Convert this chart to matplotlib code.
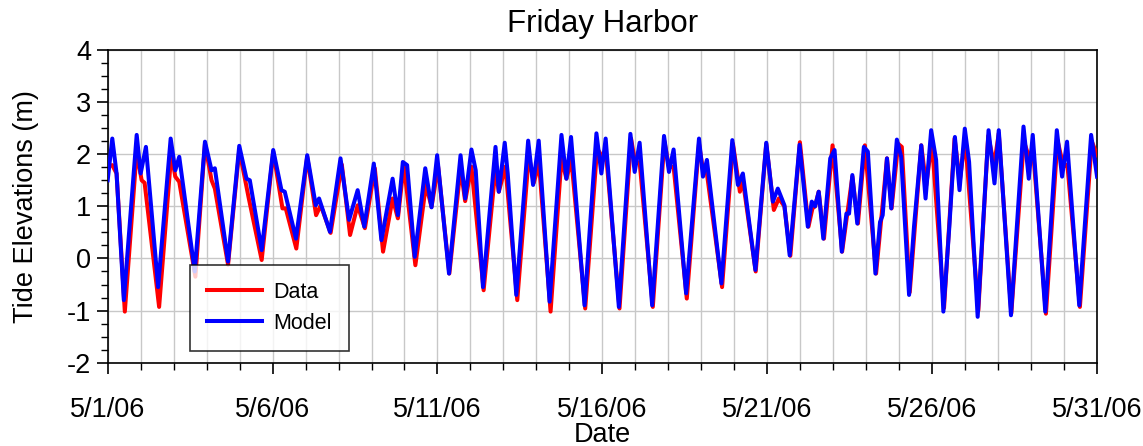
import datetime as dt
import matplotlib
matplotlib.use("Agg")
import matplotlib.pyplot as plt
import matplotlib.dates as mdates

plt.rcParams["font.family"] = ["Liberation Sans", "DejaVu Sans"]
plt.rcParams["axes.unicode_minus"] = False

# -----------------------------------------------------------------------
# Data: (days since 5/1/06, elevation in m)
# -----------------------------------------------------------------------
start_date = dt.datetime(2006, 5, 1)

model_days = [
    0.00, 0.14, 0.27, 0.49, 0.88, 1.00, 1.16, 1.53, 1.91, 2.05, 2.17, 2.64,
    2.95, 3.15, 3.25, 3.65, 3.99, 4.21, 4.31, 4.67, 5.02, 5.27, 5.37, 5.71,
    6.05, 6.31, 6.41, 6.74, 7.06, 7.32, 7.58, 7.78, 8.07, 8.30, 8.64, 8.80,
    8.95, 9.08, 9.31, 9.48, 9.63, 9.82, 9.99, 10.35, 10.70, 10.84, 11.03,
    11.16, 11.38, 11.76, 11.86, 12.04, 12.13, 12.39, 12.75, 12.90, 13.07,
    13.40, 13.76, 13.91, 14.05, 14.46, 14.82, 14.97, 15.10, 15.50, 15.85,
    15.98, 16.13, 16.51, 16.87, 17.02, 17.16, 17.54, 17.93, 18.05, 18.17,
    18.61, 18.94, 19.11, 19.26, 19.64, 19.97, 20.17, 20.32, 20.52, 20.68,
    20.98, 21.23, 21.35, 21.45, 21.56, 21.70, 21.91, 22.04, 22.26, 22.40,
    22.48, 22.58, 22.73, 22.93, 23.05, 23.28, 23.42, 23.50, 23.63, 23.76,
    23.93, 24.06, 24.30, 24.45, 24.67, 24.80, 24.97, 25.12, 25.34, 25.52,
    25.69, 25.83, 25.99, 26.12, 26.38, 26.71, 26.89, 27.02, 27.39, 27.77,
    27.93, 28.05, 28.43, 28.78, 28.94, 29.09, 29.46, 29.82, 30.00,
]
model_elev = [
    1.50, 2.30, 1.63, -0.80, 2.37, 1.63, 2.14, -0.55, 2.30, 1.69, 1.95, -0.25,
    2.24, 1.69, 1.73, -0.06, 2.16, 1.53, 1.50, 0.16, 2.08, 1.31, 1.28, 0.38,
    1.98, 1.02, 1.15, 0.51, 1.92, 0.74, 1.31, 0.61, 1.82, 0.35, 1.53, 0.83,
    1.85, 1.79, 0.03, 0.93, 1.73, 0.98, 1.98, -0.29, 1.98, 1.15, 2.09,
    1.69, -0.55, 2.14, 1.28, 2.22, 1.63, -0.70, 2.26, 1.41, 2.26,
    -0.83, 2.37, 1.53, 2.33, -0.90, 2.40, 1.63, 2.30, -0.93, 2.39,
    1.66, 2.22, -0.90, 2.35, 1.66, 2.09, -0.67, 2.30, 1.57, 1.89,
    -0.48, 2.27, 1.41, 1.63, -0.22, 2.22, 1.09, 1.34, 1.02, 0.06,
    2.18, 0.61, 1.09, 1.00, 1.28, 0.38, 1.92, 2.08, 0.13, 0.86,
    0.86, 1.60, 0.67, 2.14, 2.05, -0.29, 0.70, 0.83, 1.92, 0.96,
    2.28, 1.95, -0.70, 0.61, 2.17, 1.15, 2.46, 1.89, -1.02, 0.60,
    2.33, 1.31, 2.49, 1.85, -1.12, 2.46, 1.44, 2.46, -1.09, 2.53,
    1.53, 2.37, -1.02, 2.46, 1.57, 2.24, -0.90, 2.37, 1.57,
]

data_days = [
    0.00, 0.14, 0.27, 0.52, 0.88, 1.03, 1.12, 1.56, 1.93, 2.05, 2.17, 2.66,
    2.95, 3.15, 3.25, 3.65, 3.99, 4.27, 4.67, 5.02, 5.30, 5.40, 5.72,
    6.05, 6.32, 6.46, 6.76, 7.10, 7.35, 7.58, 7.80, 8.10, 8.35, 8.64, 8.80,
    8.98, 9.33, 9.65, 9.82, 10.02, 10.36, 10.70, 10.84, 11.03, 11.40, 11.76,
    11.86, 12.06, 12.42, 12.77, 12.92, 13.08, 13.43, 13.76, 13.91, 14.06,
    14.48, 14.84, 15.05, 15.12, 15.52, 15.87, 16.00, 16.13, 16.53, 16.88,
    17.02, 17.16, 17.56, 17.93, 18.05, 18.17, 18.63, 18.96, 19.17, 19.26,
    19.65, 19.97, 20.20, 20.35, 20.52, 20.70, 20.99, 21.25, 21.37, 21.45,
    21.56, 21.72, 21.98, 22.27, 22.58, 22.75, 22.96, 23.30, 23.63, 23.77,
    23.97, 24.08, 24.32, 24.67, 24.82, 24.99, 25.36, 25.68, 25.84, 26.00,
    26.40, 26.70, 26.88, 27.02, 27.40, 27.78, 27.96, 28.05, 28.45, 28.80,
    28.98, 29.10, 29.48, 29.84, 30.00,
]
data_elev = [
    1.76, 1.79, 1.63, -1.02, 2.05, 1.50, 1.45, -0.93, 2.02, 1.57, 1.47, -0.35,
    2.20, 1.50, 1.34, -0.12, 2.08, 1.18, -0.03, 2.05, 0.96, 0.96, 0.19,
    1.95, 0.83, 1.02, 0.49, 1.80, 0.45, 1.02, 0.58, 1.73, 0.13, 1.15, 0.77,
    1.80, -0.13, 1.41, 0.99, 1.76, -0.29, 1.73, 1.10, 1.76, -0.61, 1.73,
    1.28, 1.76, -0.80, 1.98, 1.45, 1.82, -1.02, 1.92, 1.53, 1.89,
    -0.96, 2.11, 1.90, 1.95, -0.96, 2.30, 1.82, 1.85, -0.93, 2.25,
    1.75, 1.76, -0.77, 2.20, 1.70, 1.63, -0.55, 2.20, 1.28, 1.50,
    -0.25, 2.20, 0.93, 1.15, 1.00, 0.05, 2.23, 0.61, 0.96, 1.00,
    1.28, 0.38, 2.17, 0.13, 1.57, 0.67, 2.17, -0.29, 1.92, 0.96,
    2.20, 2.14, -0.65, 2.17, 1.40, 2.25, -0.95, 2.30, 1.50, 2.30,
    -1.00, 2.35, 1.80, 2.40, -1.05, 2.25, 1.90, 2.15, -1.06, 2.27,
    1.76, 1.80, -0.93, 2.25, 1.98,
]

model_t = [start_date + dt.timedelta(days=d) for d in model_days]
data_t = [start_date + dt.timedelta(days=d) for d in data_days]

# -----------------------------------------------------------------------
# Figure
# -----------------------------------------------------------------------
fig = plt.figure(figsize=(11.43, 4.46), dpi=100)
ax = fig.add_axes([0.0942, 0.1868, 0.8656, 0.7012])

ax.plot(data_t, data_elev, color="#ff0000", linewidth=2.9, label="Data",
        solid_joinstyle="round", zorder=3)
ax.plot(model_t, model_elev, color="#0000ff", linewidth=2.9, label="Model",
        solid_joinstyle="round", zorder=4)

ax.set_xlim(start_date, start_date + dt.timedelta(days=30))
ax.set_ylim(-2, 4)

ax.xaxis.set_major_locator(mdates.DayLocator(bymonthday=[1, 6, 11, 16, 21, 26, 31]))
ax.xaxis.set_minor_locator(mdates.DayLocator())
ax.xaxis.set_major_formatter(mdates.DateFormatter("%-m/%-d/%y"))
ax.set_yticks(range(-2, 5))
ax.yaxis.set_minor_locator(matplotlib.ticker.MultipleLocator(0.25))

ax.grid(True, which="both", axis="x", color="#c8c8c8", linewidth=1.0, zorder=0)
ax.grid(True, which="major", axis="y", color="#c8c8c8", linewidth=1.0, zorder=0)

ax.tick_params(which="major", direction="out", length=8, width=1.2,
               labelsize=19.5, top=False, right=False)
ax.tick_params(which="minor", direction="out", length=5, width=1.0,
               top=False, right=False)
ax.tick_params(axis="x", which="major", pad=17)
ax.tick_params(axis="y", which="major", pad=4)
for s in ax.spines.values():
    s.set_linewidth(1.2)

ax.set_title("Friday Harbor", fontsize=22.5, pad=13)
ax.set_xlabel("Date", fontsize=19.5, labelpad=-1)
ax.set_ylabel("Tide Elevations (m)", fontsize=19.5, labelpad=20)

leg = ax.legend(loc="lower left", bbox_to_anchor=(0.083, 0.038),
                borderaxespad=0, fontsize=15.5, frameon=True, fancybox=False,
                edgecolor="black", handlelength=2.55, handletextpad=0.55,
                borderpad=0.8, labelspacing=0.45)
leg.get_frame().set_linewidth(1.2)
leg.set_zorder(10)

fig.savefig("out.png", dpi=100)
